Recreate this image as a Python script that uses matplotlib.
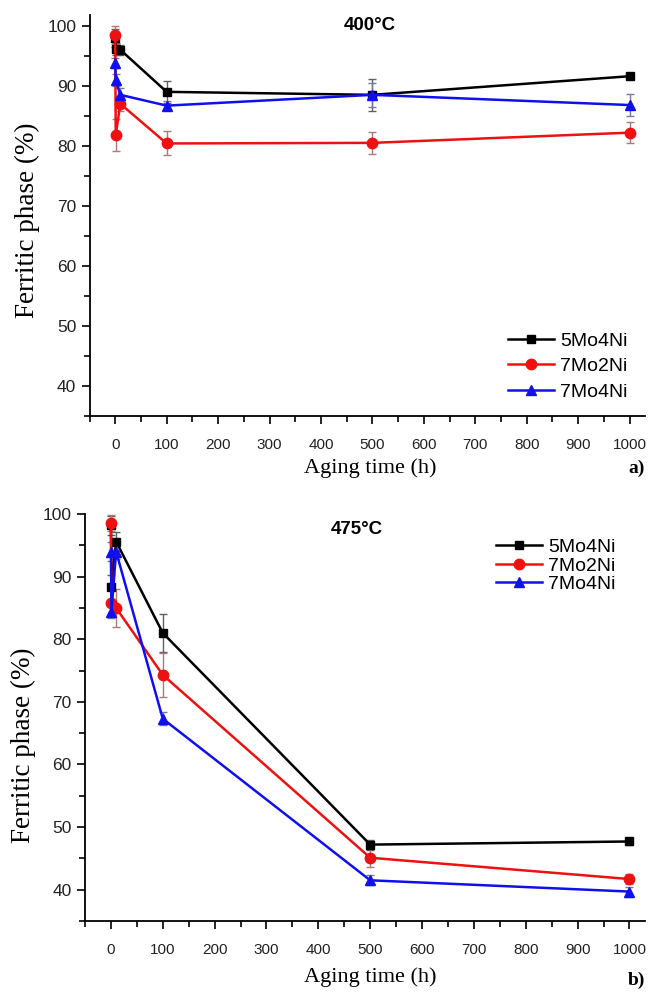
import numpy as np
import matplotlib
matplotlib.use("Agg")
import matplotlib.pyplot as plt
from matplotlib.ticker import MultipleLocator

# aging times (h)
hours = [0, 1, 10, 100, 500, 1000]
names = ["5Mo4Ni", "7Mo2Ni", "7Mo4Ni"]

# 400 C
a_5mo4ni = [98.0, 96.1, 96.0, 89.0, 88.5, 91.6]
a_5mo4ni_err = [1.5, 1.0, 0.8, 1.8, 2.7, 0.5]
a_7mo2ni = [98.5, 81.8, 87.0, 80.4, 80.5, 82.2]
a_7mo2ni_err = [1.5, 2.6, 1.2, 2.0, 1.8, 1.8]
a_7mo4ni = [93.8, 90.9, 88.5, 86.7, 88.5, 86.8]
a_7mo4ni_err = [0.8, 1.0, 1.2, 0.8, 2.0, 1.8]

# 475 C
b_5mo4ni = [98.2, 88.3, 95.6, 81.0, 47.2, 47.7]
b_5mo4ni_err = [1.5, 2.0, 1.5, 3.0, 0.8, 0.6]
b_7mo2ni = [98.6, 85.8, 85.0, 74.3, 45.1, 41.7]
b_7mo2ni_err = [1.3, 2.0, 3.0, 3.5, 1.5, 0.8]
b_7mo4ni = [94.0, 84.4, 94.0, 67.3, 41.5, 39.7]
b_7mo4ni_err = [1.5, 1.0, 1.2, 1.0, 0.8, 0.8]

colors = ["black", "#ee1111", "#1010ee"]
ecolors = ["#606060", "#b07878", "#7878a8"]
markers = ["s", "o", "^"]
msizes = [6, 7.5, 7.5]

serif = ["Liberation Serif", "DejaVu Serif"]
sans = ["Liberation Sans", "DejaVu Sans"]
plt.rcParams['font.family'] = sans

fig = plt.figure(figsize=(6.48, 9.92), dpi=100)
W, H = 648.0, 992.0

def make_axes(left, top, right, bottom):
    return fig.add_axes([left / W, 1 - bottom / H, (right - left) / W, (bottom - top) / H])

def style(ax, ytop):
    ax.set_xlim(-50, 1030)
    ax.set_ylim(35, ytop)
    ax.spines['top'].set_visible(False)
    ax.spines['right'].set_visible(False)
    ax.spines['left'].set_linewidth(1.3)
    ax.spines['bottom'].set_linewidth(1.3)
    ax.xaxis.set_major_locator(MultipleLocator(100))
    ax.xaxis.set_minor_locator(MultipleLocator(50))
    ax.yaxis.set_major_locator(MultipleLocator(10))
    ax.yaxis.set_minor_locator(MultipleLocator(5))
    ax.set_yticks([40, 50, 60, 70, 80, 90, 100])
    ax.tick_params(which='major', length=6, width=1.2, direction='out', labelcolor='#222222')
    ax.tick_params(which='minor', length=4, width=1.2, direction='out')
    ax.tick_params(axis='x', pad=10, labelsize=11)
    ax.tick_params(axis='y', labelsize=12.5)

ax1 = make_axes(89.5, 15, 645, 416)
ax2 = make_axes(85, 514, 645, 921)

data_a = [(a_5mo4ni, a_5mo4ni_err), (a_7mo2ni, a_7mo2ni_err), (a_7mo4ni, a_7mo4ni_err)]
data_b = [(b_5mo4ni, b_5mo4ni_err), (b_7mo2ni, b_7mo2ni_err), (b_7mo4ni, b_7mo4ni_err)]

for ax, data in [(ax1, data_a), (ax2, data_b)]:
    for i, (vals, errs) in enumerate(data):
        ax.errorbar(hours, vals, yerr=errs, color=colors[i], ecolor=ecolors[i],
                    elinewidth=1, capsize=3, capthick=1, marker=markers[i],
                    markersize=msizes[i], linewidth=1.8, label=names[i])

style(ax1, 101.8)
style(ax2, 100)

h, l = ax1.get_legend_handles_labels()
h = [x[0] for x in h]
ax1.legend(h, l, loc='lower right', bbox_to_anchor=(1.0, -0.005), frameon=False,
           fontsize=14, handlelength=2.4, handletextpad=0.3, labelspacing=0.4)
ax2.legend(h, l, loc='upper right', bbox_to_anchor=(0.979, 0.983), frameon=False,
           fontsize=14, handlelength=2.4, handletextpad=0.3, labelspacing=0.05)

fig.text(370 / W, 1 - 26 / H, "400°C", ha='center', va='center', fontsize=13.5, fontweight='bold')
fig.text(357 / W, 1 - 530 / H, "475°C", ha='center', va='center', fontsize=13.5, fontweight='bold')

fig.text(370 / W, 1 - 468 / H, "Aging time (h)", ha='center', va='center', fontsize=16, family=serif)
fig.text(370 / W, 1 - 977 / H, "Aging time (h)", ha='center', va='center', fontsize=16, family=serif)
fig.text(27 / W, 1 - 220 / H, "Ferritic phase (%)", ha='center', va='center', rotation=90, fontsize=19.5, family=serif)
fig.text(23 / W, 1 - 745 / H, "Ferritic phase (%)", ha='center', va='center', rotation=90, fontsize=19.5, family=serif)

fig.text(645 / W, 1 - 468 / H, "a)", ha='right', va='center', fontsize=14, fontweight='bold', family=serif)
fig.text(645 / W, 1 - 980 / H, "b)", ha='right', va='center', fontsize=14, fontweight='bold', family=serif)

fig.savefig("out.png", dpi=100)
